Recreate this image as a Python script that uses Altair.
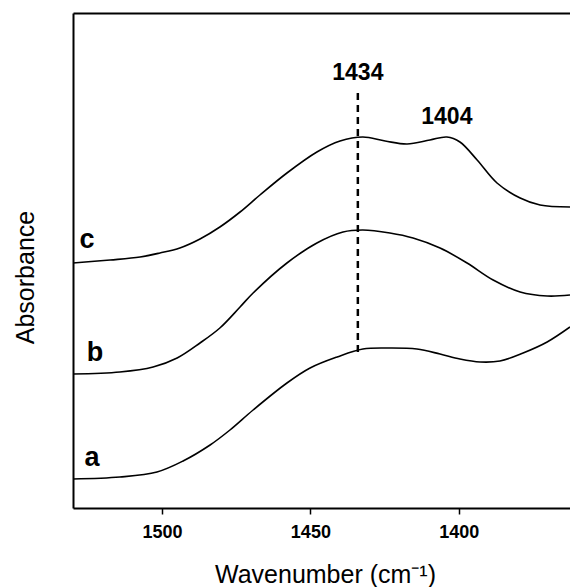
import altair as alt
import pandas as pd

# FTIR spectra (wavenumber in cm^-1, absorbance in arbitrary offset units)
wn_c = [1530, 1517.5, 1507.4, 1500.7, 1494.0, 1487.2, 1480.5, 1473.7, 1467.0, 1457.9, 1447.8, 1440.0,
        1432.3, 1424.8, 1417.4, 1409.7, 1404.0, 1399.6, 1393.8, 1387.1, 1379.3, 1372.6, 1362.5]
abs_c = [2.45, 2.48, 2.51, 2.55, 2.60, 2.69, 2.81, 2.96, 3.13, 3.35, 3.56, 3.67,
         3.71, 3.67, 3.64, 3.68, 3.71, 3.66, 3.48, 3.25, 3.10, 3.03, 3.01]

wn_b = [1530, 1514.2, 1503.0, 1494.9, 1487.2, 1480.5, 1473.7, 1469.3, 1457.9, 1447.8, 1439.0,
        1432.3, 1423.2, 1415.4, 1406.3, 1397.2, 1388.4, 1379.3, 1370.2, 1362.5]
abs_b = [1.34, 1.36, 1.41, 1.50, 1.65, 1.80, 2.01, 2.15, 2.45, 2.65, 2.76,
         2.78, 2.75, 2.70, 2.60, 2.45, 2.28, 2.16, 2.12, 2.13]

wn_a = [1530, 1514.2, 1501.7, 1492.9, 1483.8, 1477.1, 1469.3, 1457.9, 1450.1, 1441.0,
        1432.3, 1423.2, 1414.1, 1406.3, 1399.6, 1392.8, 1386.1, 1378.3, 1370.2, 1362.5]
abs_a = [0.29, 0.31, 0.36, 0.47, 0.63, 0.78, 0.98, 1.25, 1.40, 1.51,
         1.59, 1.60, 1.59, 1.54, 1.49, 1.46, 1.47, 1.55, 1.66, 1.81]

# curve letters
curve_names = ["c", "b", "a"]
curve_label_wn = [1525.3, 1522.6, 1523.6]
curve_label_abs = [2.68, 1.55, 0.50]

# band markers
band_wn = [1434, 1404]
band_text = ["1434", "1404"]
band_text_abs = [4.35, 3.91]
marker_wn = [1434]
marker_top = [4.15]
marker_bottom = [1.53]

x_ticks = [1500, 1450, 1400]
X_DOMAIN = [1530, 1362.5]
Y_DOMAIN = [0, 4.95]

rows = []
for name, xs, ys in (("c", wn_c, abs_c), ("b", wn_b, abs_b), ("a", wn_a, abs_a)):
    for i, (w, a) in enumerate(zip(xs, ys)):
        rows.append({"curve": name, "wn": w, "A": a, "i": i})
spectra = pd.DataFrame(rows)

letters = pd.DataFrame({"name": curve_names, "wn": curve_label_wn, "A": curve_label_abs})
bands = pd.DataFrame({"text": band_text, "wn": band_wn, "A": band_text_abs})
marker = pd.DataFrame({"wn": marker_wn, "A": marker_top, "A2": marker_bottom})

FONT = "Liberation Sans"
xscale = alt.Scale(domain=X_DOMAIN, nice=False, zero=False)
yscale = alt.Scale(domain=Y_DOMAIN, nice=False, zero=False)

y_axis = alt.Axis(
    title="Absorbance", ticks=False, labels=False, grid=False,
    domainColor="black", domainWidth=2,
    titleFont=FONT, titleFontSize=25, titleFontWeight="normal", titleColor="black",
    titleX=-48, titleY=264, titleAlign="center", titleBaseline="middle",
)

bottom_axis = alt.Axis(
    values=x_ticks, format="d", grid=False, domainColor="black", domainWidth=2,
    tickColor="black", tickWidth=1.5, tickSize=6,
    labelFont=FONT, labelFontSize=18, labelFontWeight="bold", labelColor="black",
    labelPadding=9, labelFlush=False,
    title="Wavenumber  (cm⁻¹)", titleFont=FONT, titleFontSize=25,
    titleFontWeight="normal", titleColor="black",
    titleX=252, titleY=74, titleAlign="center", titleBaseline="alphabetic",
)

top_axis = alt.Axis(
    orient="top", grid=False, ticks=False, labels=False, title="",
    domainColor="black", domainWidth=2,
)

lines = alt.Chart(spectra).mark_line(
    color="black", strokeWidth=1.6, interpolate="catmull-rom"
).encode(
    x=alt.X("wn:Q", scale=xscale, axis=bottom_axis),
    y=alt.Y("A:Q", scale=yscale, axis=y_axis),
    detail="curve:N",
    order="i:Q",
)

rule = alt.Chart(marker).mark_rule(
    color="black", strokeWidth=2.5, strokeDash=[7, 5]
).encode(
    x=alt.X("wn:Q", scale=xscale, axis=top_axis),
    y=alt.Y("A:Q", scale=yscale, axis=y_axis),
    y2="A2:Q",
)

band_labels = alt.Chart(bands).mark_text(
    font=FONT, fontSize=23, fontWeight="bold", color="black",
    align="center", baseline="middle",
).encode(
    x=alt.X("wn:Q", scale=xscale, axis=None),
    y=alt.Y("A:Q", scale=yscale, axis=y_axis),
    text="text:N",
)

letter_labels = alt.Chart(letters).mark_text(
    font=FONT, fontSize=27, fontWeight="bold", color="black",
    align="center", baseline="middle",
).encode(
    x=alt.X("wn:Q", scale=xscale, axis=None),
    y=alt.Y("A:Q", scale=yscale, axis=y_axis),
    text="name:N",
)

chart = alt.layer(lines, rule, band_labels, letter_labels).resolve_axis(
    x="independent"
).properties(
    width=497, height=495,
    autosize=alt.AutoSizeParams(type="none"),
    padding={"left": 73, "top": 13, "right": 0, "bottom": 79},
    background="white",
).configure_view(strokeWidth=0)

chart.save("out.html", embed_options={"renderer": "svg", "actions": False})
